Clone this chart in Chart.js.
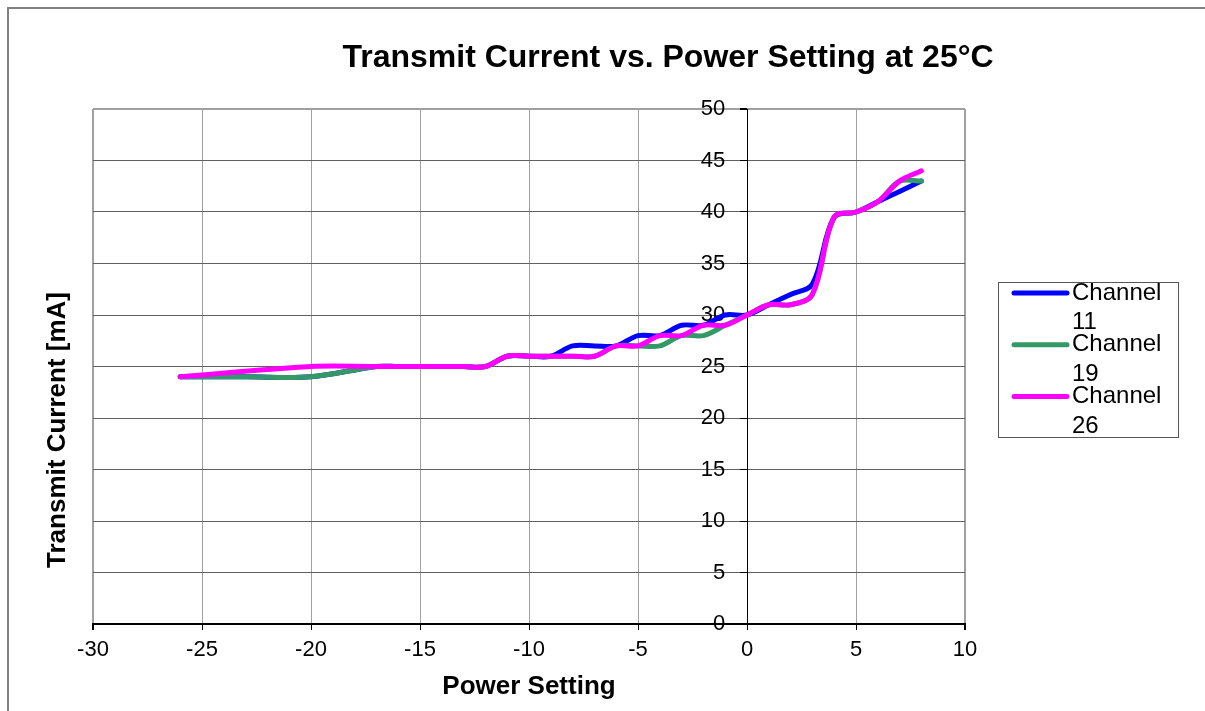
<!DOCTYPE html>
<html>
<head>
<meta charset="utf-8">
<script src="https://cdn.jsdelivr.net/npm/chart.js@4.4.1/dist/chart.umd.min.js"></script>
<style>
  body { margin: 0; background: #fff; }
  #wrap { width: 1205px; height: 711px; position: relative; }
</style>
</head>
<body>
<div id="wrap"><canvas id="GraficaCorriente"></canvas></div>
<script>
// datos
const seriesLabels = ['Channel 11', 'Channel 19', 'Channel 26'];
const seriesColors = ['#0000ff', '#339966', '#ff00ff'];

const ch11Power   = [-26, -23, -20, -17, -16, -15, -14, -13, -12, -11, -10, -9, -8, -7, -6, -5, -4, -3, -2, -1, 0, 1, 2, 3, 4, 5, 6, 7, 8];
const ch11Current = [24, 24, 24, 25, 25, 25, 25, 25, 25, 26, 26, 26, 27, 27, 27, 28, 28, 29, 29, 30, 30, 31, 32, 33, 39.5, 40, 41, 42, 43];

const ch19Power   = [-26, -23, -20, -17, -16, -15, -14, -13, -12, -11, -10, -9, -8, -7, -6, -5, -4, -3, -2, -1, 0, 1, 2, 3, 4, 5, 6, 7, 8];
const ch19Current = [24, 24, 24, 25, 25, 25, 25, 25, 25, 26, 26, 26, 26, 26, 27, 27, 27, 28, 28, 29, 30, 31, 31, 32, 39.5, 40, 41, 43, 43];

const ch26Power   = [-26, -20, -17, -16, -15, -14, -13, -12, -11, -10, -9, -8, -7, -6, -5, -4, -3, -2, -1, 0, 1, 2, 3, 4, 5, 6, 7, 8];
const ch26Current = [24, 25, 25, 25, 25, 25, 25, 25, 26, 26, 26, 26, 26, 27, 27, 28, 28, 29, 29, 30, 31, 31, 32, 39.5, 40, 41, 43, 44];

const xTicks = { min: -30, max: 10, step: 5 };
const yTicks = { min: 0, max: 50, step: 5 };

const fuente = 'Liberation Sans, Arial, sans-serif';

function puntos(xs, ys) {
    return xs.map((x, i) => ({ x: x, y: ys[i] }));
}

// titulo, titulo del eje y, marco y leyenda
const decoracion = {
    id: 'decoracion',
    beforeDraw(chart) {
        const ctx = chart.ctx;
        ctx.save();
        ctx.fillStyle = '#fff';
        ctx.fillRect(0, 0, chart.width, chart.height);
        ctx.strokeStyle = '#808080';
        ctx.lineWidth = 2;
        ctx.beginPath();
        ctx.moveTo(8, chart.height);
        ctx.lineTo(8, 8);
        ctx.lineTo(chart.width, 8);
        ctx.stroke();
        ctx.restore();
    },
    afterDraw(chart) {
        const ctx = chart.ctx;
        ctx.save();
        ctx.fillStyle = '#000';
        ctx.textAlign = 'center';
        ctx.textBaseline = 'middle';
        ctx.font = 'bold 32px ' + fuente;
        ctx.fillText('Transmit Current vs. Power Setting at 25°C', 668, 58);

        ctx.save();
        ctx.translate(58, 430);
        ctx.rotate(-Math.PI / 2);
        ctx.font = 'bold 26px ' + fuente;
        ctx.fillText('Transmit Current [mA]', 0, 0);
        ctx.restore();

        // leyenda
        ctx.strokeStyle = '#555';
        ctx.lineWidth = 1;
        ctx.strokeRect(998.5, 282.5, 180, 155);
        ctx.font = '24px ' + fuente;
        ctx.textAlign = 'left';
        chart.data.datasets.forEach(function (ds, i) {
            const y = 293 + i * 51.7;
            ctx.strokeStyle = ds.borderColor;
            ctx.lineWidth = 5;
            ctx.lineCap = 'round';
            ctx.beginPath();
            ctx.moveTo(1014, y);
            ctx.lineTo(1067, y);
            ctx.stroke();
            const partes = ds.label.split(' ');
            ctx.fillText(partes[0], 1072, y);
            ctx.fillText(partes[1], 1072, y + 29.5);
        });
        ctx.restore();
    }
};

const datos = [ch11Power, ch19Power, ch26Power];
const valores = [ch11Current, ch19Current, ch26Current];

new Chart(document.getElementById('GraficaCorriente'), {
    type: 'line',
    data: {
        datasets: seriesLabels.map(function (lbl, i) {
            return {
                label: lbl,
                data: puntos(datos[i], valores[i]),
                borderColor: seriesColors[i],
                backgroundColor: seriesColors[i],
                borderWidth: 5,
                pointRadius: 0,
                tension: 0.35,
                fill: false,
                order: seriesLabels.length - i, // Channel 26 queda encima
                borderCapStyle: 'round',
                borderJoinStyle: 'round'
            };
        })
    },
    options: {
        responsive: true,
        maintainAspectRatio: false,
        animation: false,
        devicePixelRatio: 1,
        layout: { padding: { top: 109, right: 240, left: 93, bottom: 0 } },
        plugins: {
            legend: { display: false },
            title: { display: false },
            tooltip: { enabled: false }
        },
        scales: {
            x: {
                type: 'linear',
                position: 'bottom',
                min: xTicks.min,
                max: xTicks.max,
                ticks: {
                    stepSize: xTicks.step,
                    color: '#000',
                    padding: 6.8,
                    font: { family: fuente, size: 22 }
                },
                grid: {
                    color: '#a0a0a0',
                    tickColor: '#000',
                    tickLength: 6,
                    lineWidth: function (c) {
                        return (c.tick && (c.tick.value === xTicks.min || c.tick.value === xTicks.max)) ? 2 : 1;
                    }
                },
                border: { color: '#000', width: 2 },
                title: {
                    display: true,
                    text: 'Power Setting',
                    color: '#000',
                    font: { family: fuente, size: 26, weight: 'bold' },
                    padding: { top: 1.4, bottom: 8.4 }
                }
            },
            // eje en x = 0: linea, marcas y cuadricula
            y: {
                type: 'linear',
                position: { x: 0 },
                min: yTicks.min,
                max: yTicks.max,
                ticks: { stepSize: yTicks.step, display: false },
                grid: {
                    color: function (c) {
                        return (c.tick && c.tick.value === yTicks.max) ? '#a0a0a0' : '#606060';
                    },
                    lineWidth: function (c) {
                        return (c.tick && c.tick.value === yTicks.max) ? 2 : 1;
                    },
                    tickColor: '#000',
                    tickLength: 7
                },
                border: { color: '#000', width: 1 }
            },
            // solo las etiquetas, un poco a la izquierda del eje
            yLabels: {
                type: 'linear',
                position: { x: -1 },
                min: yTicks.min,
                max: yTicks.max,
                ticks: {
                    stepSize: yTicks.step,
                    color: '#000',
                    font: { family: fuente, size: 22 }
                },
                grid: { display: false },
                border: { display: false }
            }
        }
    },
    plugins: [decoracion]
});
</script>
</body>
</html>
